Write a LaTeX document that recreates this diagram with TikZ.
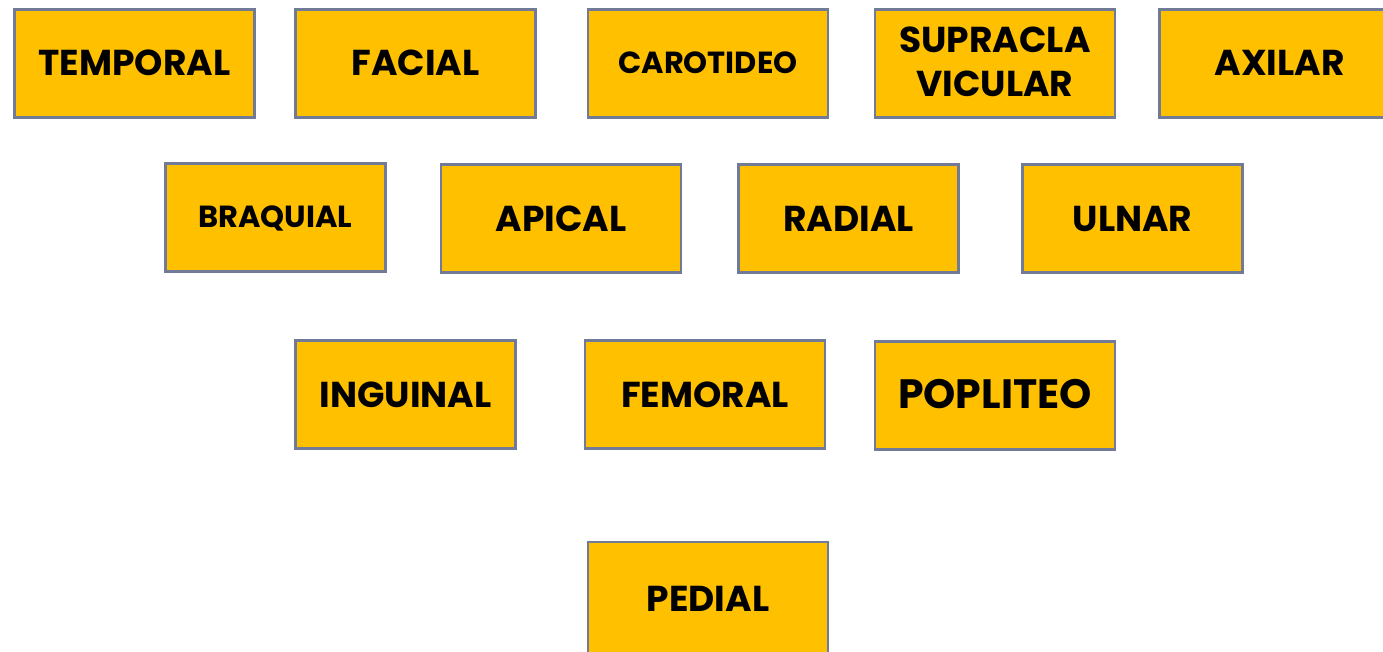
\documentclass[tikz,border=0pt]{standalone}
\usepackage{fontspec}
\setmainfont{Poppins}
\definecolor{boxfill}{HTML}{FFC000}
\definecolor{boxline}{HTML}{717B98}
\tikzset{
  pulse/.style={draw=boxline, fill=boxfill, line width=2.8pt, inner sep=0pt,
    minimum height=108.5pt, text height=24pt, text depth=0pt,
    font=\bfseries\fontsize{36}{44}\selectfont},
  wide/.style={minimum width=240pt},
  narrow/.style={minimum width=220.5pt},
  smallfont/.style={font=\bfseries\fontsize{30.5}{37}\selectfont, text height=19pt},
  bigfont/.style={font=\bfseries\fontsize{41}{50}\selectfont, text height=25pt},
  label/.style={font=\bfseries\fontsize{36}{44}\selectfont, inner sep=0pt, anchor=base}
}
\begin{document}
\begin{tikzpicture}[x=1pt,y=-1pt]
\useasboundingbox (0,0) rectangle (1383,651);
\clip (0,0) rectangle (1383,651);
\node[pulse,wide] (temporal) at (134.5,63.5) {TEMPORAL};
\node[pulse,wide] (facial) at (415.5,63.5) {FACIAL};
\node[pulse,wide,smallfont] (carotideo) at (708,63.5) {CAROTIDEO};
\node[pulse,wide] (supra) at (995,63.5) {};
\node[label] (supra1) at (995,52.7) {SUPRACLA};
\node[label] (supra2) at (995,96.7) {VICULAR};
\node[pulse,wide] (axilar) at (1279.5,63.5) {AXILAR};
\node[pulse,narrow,smallfont] (braquial) at (275.5,217.5) {BRAQUIAL};
\node[pulse,wide,text height=25pt] (apical) at (561,218.5) {APICAL};
\node[pulse,narrow,text height=25pt] (radial) at (848.5,218.5) {RADIAL};
\node[pulse,narrow,text height=25pt] (ulnar) at (1132.5,218.5) {ULNAR};
\node[pulse,narrow,text height=25pt] (inguinal) at (405.5,394.5) {INGUINAL};
\node[pulse,wide,text height=25pt] (femoral) at (705,394.5) {FEMORAL};
\node[pulse,wide,bigfont] (popliteo) at (995,395.5) {POPLITEO};
\node[pulse,wide,minimum height=130pt] (pedial) at (708,607) {};
\node[label] (pedialtext) at (708,611) {PEDIAL};
\end{tikzpicture}
\end{document}
